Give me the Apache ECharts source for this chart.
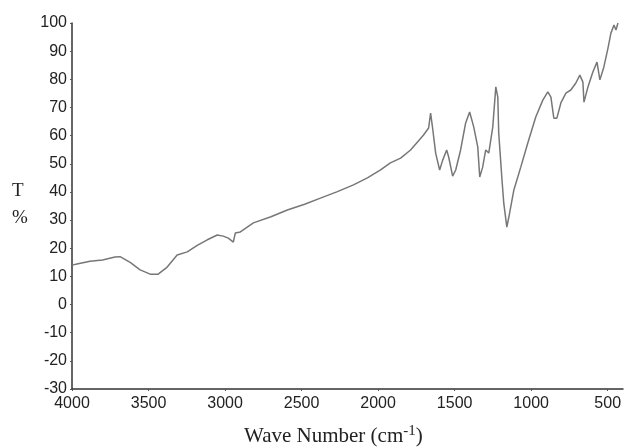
<!DOCTYPE html>
<html>
<head>
<meta charset="utf-8">
<script src="https://cdn.jsdelivr.net/npm/echarts@6/dist/echarts.min.js"></script>
<style>
  html, body { margin: 0; padding: 0; background: #fff; }
  #main { width: 625px; height: 448px; }
</style>
</head>
<body>
<div id="main"></div>
<script>
// wave number (cm-1) and transmittance (%)
const waveNumber = [4000, 3960, 3882, 3800, 3719, 3686, 3620, 3555, 3489, 3437, 3378, 3313, 3247, 3182, 3116, 3051, 3012, 2979, 2946, 2933, 2900, 2815, 2700, 2593, 2480, 2377, 2270, 2161, 2070, 1984, 1920, 1853, 1788, 1703, 1670, 1657, 1644, 1624, 1598, 1578, 1552, 1539, 1513, 1493, 1461, 1428, 1402, 1375, 1349, 1336, 1317, 1297, 1277, 1251, 1231, 1218, 1212, 1192, 1179, 1159, 1146, 1113, 1068, 1022, 970, 924, 891, 871, 852, 832, 806, 773, 741, 708, 682, 662, 655, 629, 597, 570, 551, 525, 498, 479, 459, 446, 433]
const transmittance = [14, 14.5, 15.4, 15.8, 16.9, 17, 15, 12.3, 10.8, 10.8, 13.3, 17.6, 18.7, 21, 23, 24.7, 24.3, 23.6, 22.2, 25.4, 25.8, 29, 31.2, 33.6, 35.6, 37.8, 40, 42.5, 45, 47.8, 50.3, 52, 54.9, 60.2, 62.7, 68, 62.7, 53.8, 47.8, 51.3, 54.9, 52.4, 45.6, 47.8, 54.9, 64.5, 68.4, 63, 56, 45.3, 48.8, 54.9, 53.8, 63, 77.3, 73.7, 61, 45.3, 36, 27.5, 31, 40.7, 48.8, 57.4, 66.6, 72.6, 75.5, 73.7, 66.2, 66.2, 71.6, 75.1, 76.2, 78.7, 81.5, 79, 71.9, 77.3, 82.6, 86.1, 79.8, 84.4, 91.1, 96.4, 99.3, 97.5, 100]
const xTicks = [4000, 3500, 3000, 2500, 2000, 1500, 1000, 500]

const chart = echarts.init(document.getElementById('main'))
const labelFont = { fontFamily: 'Liberation Sans', fontSize: 16, color: '#222' }

const option = {
  animation: false,
  backgroundColor: '#fff',
  grid: { left: 72, right: 2, top: 23, bottom: 59 },
  xAxis: {
    type: 'value',
    inverse: true,
    min: 400,
    max: 4000,
    axisLine: { show: true, onZero: false, lineStyle: { color: '#333', width: 1.5 } },
    axisTick: { show: true, customValues: xTicks, length: 2, lineStyle: { color: '#555' } },
    axisLabel: { customValues: xTicks, margin: 7, formatter: (v) => String(v), ...labelFont },
    splitLine: { show: false },
  },
  yAxis: {
    type: 'value',
    min: -30,
    max: 100,
    interval: 10,
    axisLine: { show: true, onZero: false, lineStyle: { color: '#333', width: 1.5 } },
    axisTick: { show: true, length: 2, lineStyle: { color: '#555' } },
    axisLabel: { margin: 5, ...labelFont },
    splitLine: { show: false },
  },
  series: [
    {
      type: 'line',
      data: waveNumber.map((w, i) => [w, transmittance[i]]),
      showSymbol: false,
      lineStyle: { color: '#777', width: 1.5 },
    },
  ],
  graphic: [
    {
      type: 'text', left: 12, top: 182,
      style: { text: 'T', fontFamily: 'Liberation Serif', fontSize: 19, fill: '#222' },
    },
    {
      type: 'text', left: 12, top: 209,
      style: { text: '%', fontFamily: 'Liberation Serif', fontSize: 19, fill: '#222' },
    },
    {
      type: 'text', left: 244, top: 424,
      style: {
        text: '{a|Wave Number (cm}{s|-1}{a|)}',
        rich: {
          a: { fontFamily: 'Liberation Serif', fontSize: 21, fill: '#222', verticalAlign: 'bottom' },
          s: { fontFamily: 'Liberation Serif', fontSize: 15, fill: '#222', verticalAlign: 'top', padding: [0, 0, 8, 0] },
        },
      },
    },
  ],
}
option && chart.setOption(option)
</script>
</body>
</html>
